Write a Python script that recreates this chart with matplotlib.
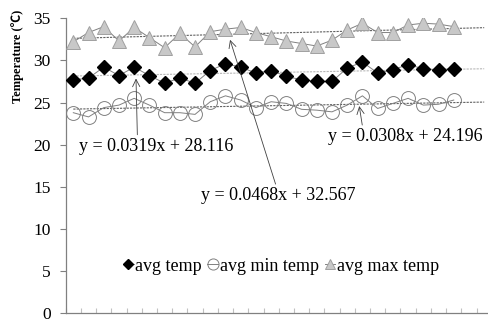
import numpy as np
import matplotlib
matplotlib.use('Agg')
import matplotlib.pyplot as plt
from matplotlib.ticker import FixedLocator

plt.rcParams['font.family'] = ['Liberation Serif', 'Noto Sans CJK SC']

# data
days = np.arange(1, 27)
avg_temp = [27.7, 27.9, 29.2, 28.2, 29.2, 28.2, 27.3, 27.9, 27.3, 28.8, 29.6, 29.2, 28.5,
            28.8, 28.1, 27.7, 27.5, 27.5, 29.1, 29.8, 28.5, 28.9, 29.5, 29.0, 28.9, 29.0]
avg_min = [23.8, 23.3, 24.4, 24.7, 25.5, 24.7, 23.8, 23.8, 23.6, 25.1, 25.8, 25.3, 24.4,
           25.1, 24.9, 24.2, 24.1, 23.9, 24.7, 25.8, 24.3, 24.9, 25.5, 24.7, 24.8, 25.3]
avg_max = [32.2, 33.3, 34.0, 32.3, 33.9, 32.7, 31.5, 33.2, 31.6, 33.4, 33.7, 33.9, 33.3,
           32.8, 32.3, 32.0, 31.7, 32.4, 33.6, 34.4, 33.3, 33.3, 34.2, 34.4, 34.3, 34.0]

# trendline equations shown on the chart
slopes = [0.0319, 0.0308, 0.0468]
intercepts = [28.116, 24.196, 32.567]
yticks = [0, 5, 10, 15, 20, 25, 30, 35]

fig = plt.figure(figsize=(4.88, 3.22), dpi=100)
ax = fig.add_axes([0.1346, 0.0264, 0.8654, 0.9171])

gray = '#808080'
ax.plot(days, avg_temp, color=gray, lw=0.7, marker='D', ms=7, mfc='black', mec='black',
        label='avg temp', zorder=3)
ax.plot(days, avg_min, color=gray, lw=0.7, marker='o', ms=10, mfc='none', mec=gray,
        mew=0.7, label='avg min temp', zorder=3)
ax.plot(days, avg_max, color=gray, lw=0.7, marker='^', ms=9.5, mfc='#c8c8c8', mec='#a0a0a0',
        mew=0.7, label='avg max temp', zorder=3)

# trendlines, forecast forward 2 periods
xt = np.array([1, 28])
trend_cols = ['#b8b8b8', '#606060', '#606060']
for m, b, c in zip(slopes, intercepts, trend_cols):
    ax.plot(xt, m * xt + b, color=c, lw=0.8, ls=(0, (2, 1)), zorder=2)

arrow = dict(arrowstyle='->', color='#404040', lw=0.6, shrinkA=0, shrinkB=0)
ax.annotate('y = 0.0319x + 28.116', xy=(5.12, 27.85), xytext=(6.43, 19.85), fontsize=13,
            ha='center', va='center', arrowprops=dict(arrow, relpos=(0.38, 1.0)))
ax.annotate('y = 0.0468x + 32.567', xy=(11.3, 32.44), xytext=(14.45, 14.0), fontsize=13,
            ha='center', va='center', arrowprops=dict(arrow, relpos=(0.49, 1.0)))
ax.annotate('y = 0.0308x + 24.196', xy=(19.79, 24.59), xytext=(17.73, 21.0), fontsize=13,
            ha='left', va='center', annotation_clip=False,
            arrowprops=dict(arrow, relpos=(0.225, 1.0)))

ax.set_xlim(0.5, 28.25)
ax.set_ylim(0, 35)
ax.set_yticks(yticks)
ax.xaxis.set_major_locator(FixedLocator(np.arange(0.5, 28, 1)))
ax.set_xticklabels([])
ax.tick_params(axis='y', direction='out', length=4.3, width=0.8, color=gray, pad=6.5,
               labelsize=12.5)
ax.tick_params(axis='x', direction='in', length=3.6, width=0.8, color='#c0c0c0')
for s in ['top', 'right']:
    ax.spines[s].set_visible(False)
for s in ['left', 'bottom']:
    ax.spines[s].set_color(gray)
    ax.spines[s].set_linewidth(0.9)

ax.set_ylabel('Temperature (℃)', fontsize=9, fontweight='bold')
ax.yaxis.set_label_coords(-0.098, 0.871)

ax.legend(loc='center', bbox_to_anchor=(0.51, 0.16), ncol=3, frameon=False, fontsize=13,
          handlelength=0.6, handletextpad=0.1, columnspacing=0.3, markerscale=0.8)

fig.savefig('out.png', dpi=100)
